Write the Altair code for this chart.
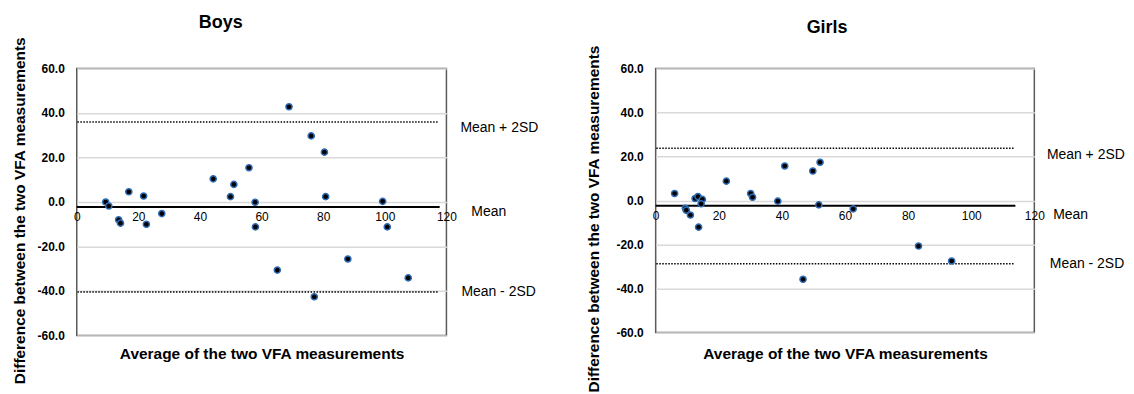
import altair as alt
import pandas as pd

FONT = "Liberation Sans"

# ---------------- data ----------------
x_ticks = [0, 20, 40, 60, 80, 100, 120]
y_ticks = [-60, -40, -20, 0, 20, 40, 60]

boys_avg = [9.4, 10.4, 13.6, 14.2, 16.9, 21.7, 22.6, 27.6, 44.3, 49.9, 51.0, 55.9,
            57.9, 58.0, 65.1, 68.9, 76.1, 77.1, 80.4, 80.8, 88.0, 99.3, 100.8, 107.6]
boys_diff = [0.0, -1.8, -8.0, -9.5, 4.6, 2.7, -10.0, -5.2, 10.4, 2.4, 7.9, 15.4,
             -0.1, -11.2, -30.6, 42.8, 29.7, -42.6, 22.4, 2.4, -25.6, 0.3, -11.2, -34.1]

girls_avg = [6.0, 9.4, 9.7, 11.0, 12.5, 13.4, 14.8, 14.4, 13.6, 22.4, 30.1, 30.7,
             38.7, 40.9, 46.7, 49.8, 52.1, 51.7, 62.6, 83.3, 93.8]
girls_diff = [3.2, -3.5, -4.4, -6.6, 0.9, 1.8, 0.5, -1.5, -12.1, 8.8, 3.2, 1.5,
              -0.3, 15.7, -35.8, 13.4, 17.4, -2.0, -3.8, -20.7, -27.5]

# mean, mean+2SD, mean-2SD and the x extent of the reference lines
boys_lines = {"mean": -2.2, "upper": 36.0, "lower": -40.4, "mean_end": 117.8, "dot_start": 0.2, "dot_end": 117.3}
girls_lines = {"mean": -2.4, "upper": 23.8, "lower": -28.7, "mean_end": 114.0, "dot_start": 0.2, "dot_end": 113.5}

line_labels = ["Mean + 2SD", "Mean", "Mean - 2SD"]
x_title = "Average of the two VFA measurements"
y_title = "Difference between the two VFA measurements"


def panel(name, avg, diff, ln, w, h, st):
    pts = pd.DataFrame({"avg": avg, "diff": diff})
    xs = alt.Scale(domain=[0, 120], nice=False, zero=False)
    ys = alt.Scale(domain=[-60, 60], nice=False)

    xaxis = alt.Axis(values=x_ticks, labelFlush=False, ticks=False, domain=False, grid=False,
                     labelFont=FONT, labelFontSize=12, labelColor="#000", labelPadding=10,
                     offset=-h / 2, title=x_title, titleFont=FONT, titleFontSize=15.5,
                     titleFontWeight="bold", titleColor="#000", titleY=st["xtitle_y"],
                     titleBaseline="middle", labelOverlap=False)
    yaxis = alt.Axis(values=y_ticks, ticks=False, domain=False, grid=True,
                     gridColor="#d9d9d9", gridWidth=1.5,
                     labelExpr="(datum.value < 0 ? '-' : '') + format(abs(datum.value), '.1f')",
                     labelFont=FONT, labelFontSize=12, labelFontWeight="bold", labelColor="#000",
                     labelPadding=12.5, title=y_title, titleFont=FONT, titleFontSize=15.5,
                     titleFontWeight="bold", titleColor="#000", titlePadding=st["ytitle_pad"],
                     titleY=st["ytitle_y"])

    def X(f):
        return alt.X(f, scale=xs, axis=xaxis)

    def Y(f):
        return alt.Y(f, scale=ys, axis=yaxis)

    points = alt.Chart(pts).mark_circle(size=38, opacity=1, color="#000", stroke="#2f6db5",
                                        strokeWidth=1.5).encode(x=X("avg:Q"), y=Y("diff:Q"))

    mean_df = pd.DataFrame({"x0": [0], "x1": [ln["mean_end"]], "y": [ln["mean"]]})
    mean_rule = alt.Chart(mean_df).mark_rule(color="#000", strokeWidth=2).encode(
        x=X("x0:Q"), x2="x1:Q", y=Y("y:Q"))

    dot_df = pd.DataFrame({"x0": [ln["dot_start"]] * 2, "x1": [ln["dot_end"]] * 2,
                           "y": [ln["upper"], ln["lower"]]})
    dot_rule = alt.Chart(dot_df).mark_rule(color="#000", strokeWidth=1.5, strokeDash=[1.5, 1.5]).encode(
        x=X("x0:Q"), x2="x1:Q", y=Y("y:Q"))

    texts = []
    for lab, val, dx, dy in zip(line_labels, [ln["upper"], ln["mean"], ln["lower"]], st["dx"], st["dy"]):
        tdf = pd.DataFrame({"x": [120], "y": [val], "t": [lab]})
        texts.append(alt.Chart(tdf).mark_text(align="left", baseline="middle", dx=dx, dy=dy,
                                              font=FONT, fontSize=14, color="#000").encode(
            x=X("x:Q"), y=Y("y:Q"), text="t:N"))

    return alt.layer(mean_rule, dot_rule, points, *texts).properties(
        width=w, height=h,
        title=alt.TitleParams(name, font=FONT, fontSize=18, fontWeight="bold", color="#000",
                              anchor="middle", frame="group", dx=st["title_dx"],
                              offset=st["title_offset"]))


boys = panel("Boys", boys_avg, boys_diff, boys_lines, 371, 268,
             {"xtitle_y": 152, "ytitle_y": 142.3, "ytitle_pad": 10, "title_dx": -41,
              "title_offset": 4, "dx": [14, 25, 15], "dy": [6, 5, 0]})
girls = panel("Girls", girls_avg, girls_diff, girls_lines, 380, 265,
              {"xtitle_y": 154, "ytitle_y": 150.6, "ytitle_pad": 14.5, "title_dx": -18,
               "title_offset": 8, "dx": [12.6, 19, 15.6], "dy": [6.6, 9, 0.6]})

chart = alt.hconcat(boys, girls, spacing=46).properties(
    padding={"left": 3, "top": 5, "right": 0, "bottom": 0}
).configure(background="white").configure_view(stroke="#5a5a5a", strokeWidth=1.5)

chart.save("out.html", embed_options={"renderer": "svg", "actions": False})
